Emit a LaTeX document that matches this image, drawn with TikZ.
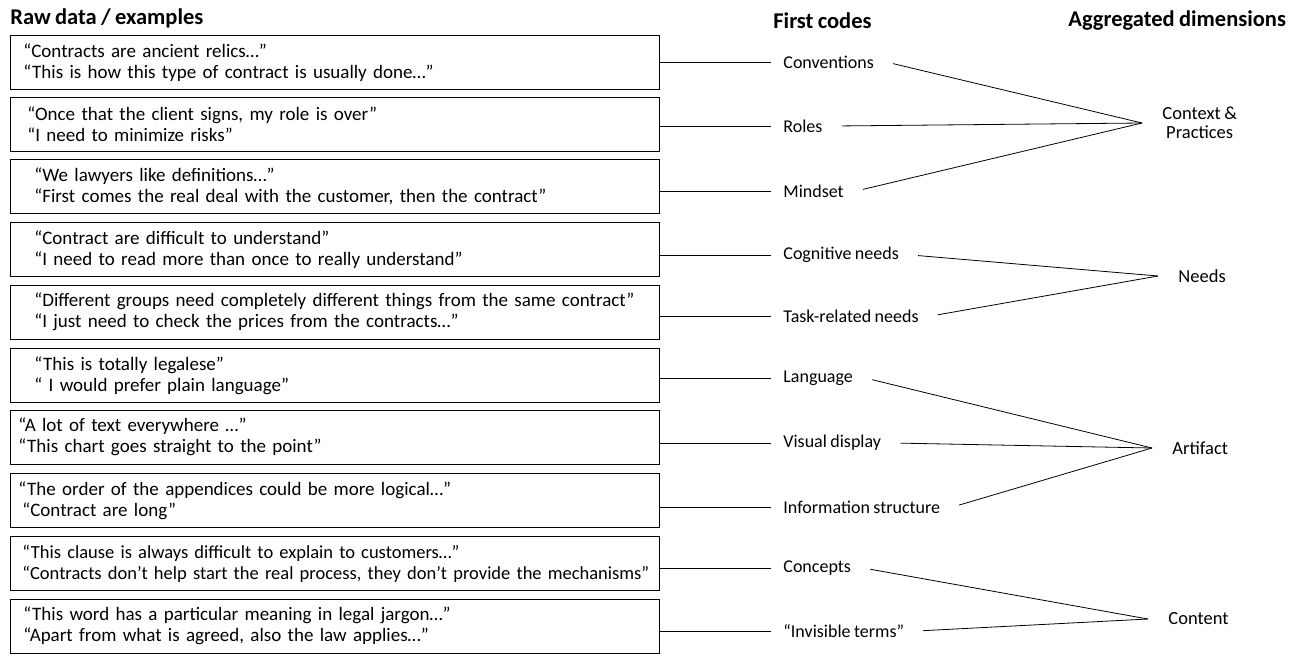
\documentclass[tikz,border=0pt]{standalone}
\usepackage{fontspec}
\setmainfont{Carlito}[WordSpace=0.85]
\usetikzlibrary{positioning}

\begin{document}
\begin{tikzpicture}[x=1pt, y=-1pt, line width=0.8pt,
  qbox/.style={draw, anchor=west, minimum height=54pt, align=left, text width=623pt, inner xsep=13pt, inner ysep=2pt, font=\fontsize{19}{21}\selectfont},
  wide/.style={inner xsep=24pt, text width=601pt},
  code/.style={anchor=west, inner xsep=12pt, font=\fontsize{18}{20}\selectfont},
  dim/.style={anchor=west, inner xsep=20pt, align=center, font=\fontsize{18.5}{19}\selectfont},
  head/.style={anchor=west, inner sep=0pt, font=\fontsize{22.5}{24}\selectfont\bfseries}]
\useasboundingbox (0,0) rectangle (1298,654);
% column titles
\node[head] (h1) at (10,18) {Raw data / examples};
\node[head] (h2) at (773,21) {First codes};
\node[head] (h3) at (1068,21) {Aggregated dimensions};
% raw data
\node[qbox] (q1) at (10,62.5) {“Contracts are ancient relics…”\\“This is how this type of contract is usually done…”};
\node[qbox, inner xsep=17pt, text width=615pt] (q2) at (10,124.5) {“Once that the client signs, my role is over”\\“I need to minimize risks”};
\node[qbox, wide] (q3) at (10,186.5) {“We lawyers like definitions…”\\“First comes the real deal with the customer, then the contract”};
\node[qbox, wide] (q4) at (10,249.5) {“Contract are difficult to understand”\\“I need to read more than once to really understand”};
\node[qbox, wide] (q5) at (10,312) {\mbox{“Different groups need completely different things from the same contract”}\\“I just need to check the prices from the contracts…”};
\node[qbox, wide] (q6) at (10,375.5) {“This is totally legalese”\\“ I would prefer plain language”};
\node[qbox, inner xsep=8pt, text width=633pt] (q7) at (10,437) {“A lot of text everywhere …”\\“This chart goes straight to the point”};
\node[qbox, inner xsep=8pt, text width=633pt] (q8) at (10,500.5) {“The order of the appendices could be more logical…”\\\hspace*{4pt}“Contract are long”};
\node[qbox, inner xsep=12pt, text width=625pt, font=\fontsize{18.5}{21}\selectfont] (q9) at (10,563.5) {“This clause is always difficult to explain to customers…”\\\mbox{“Contracts don’t help start the real process, they don’t provide the mechanisms”}};
\node[qbox] (q10) at (10,626) {“This word has a particular meaning in legal jargon…”\\“Apart from what is agreed, also the law applies…”};
% first codes
\node[code] (c1) at (771,62) {Conventions};
\node[code] (c2) at (771,126) {Roles};
\node[code] (c3) at (771,191) {Mindset};
\node[code] (c4) at (771,255) {Cognitive needs};
\node[code] (c5) at (771,316) {Task-related needs};
\node[code] (c6) at (771,378) {Language};
\node[code] (c7) at (771,443) {Visual display};
\node[code] (c8) at (771,507) {Information structure};
\node[code] (c9) at (771,568) {Concepts};
\node[code] (c10) at (771,631) {“Invisible terms”};
% aggregated dimensions
\node[dim] (d1) at (1142,123) {Context \&\\Practices};
\node[dim] (d2) at (1158,276) {Needs};
\node[dim] (d3) at (1152,448) {Artifact};
\node[dim] (d4) at (1148,619) {Content};
% connectors
\foreach \i in {1,...,10} \draw (q\i.east |- c\i) -- (c\i.west);
\foreach \i/\d in {1/1,2/1,3/1,4/2,5/2,6/3,7/3,8/3,9/4,10/4} \draw[shorten <=7pt] (c\i.east) -- (d\d.west);
\end{tikzpicture}
\end{document}
